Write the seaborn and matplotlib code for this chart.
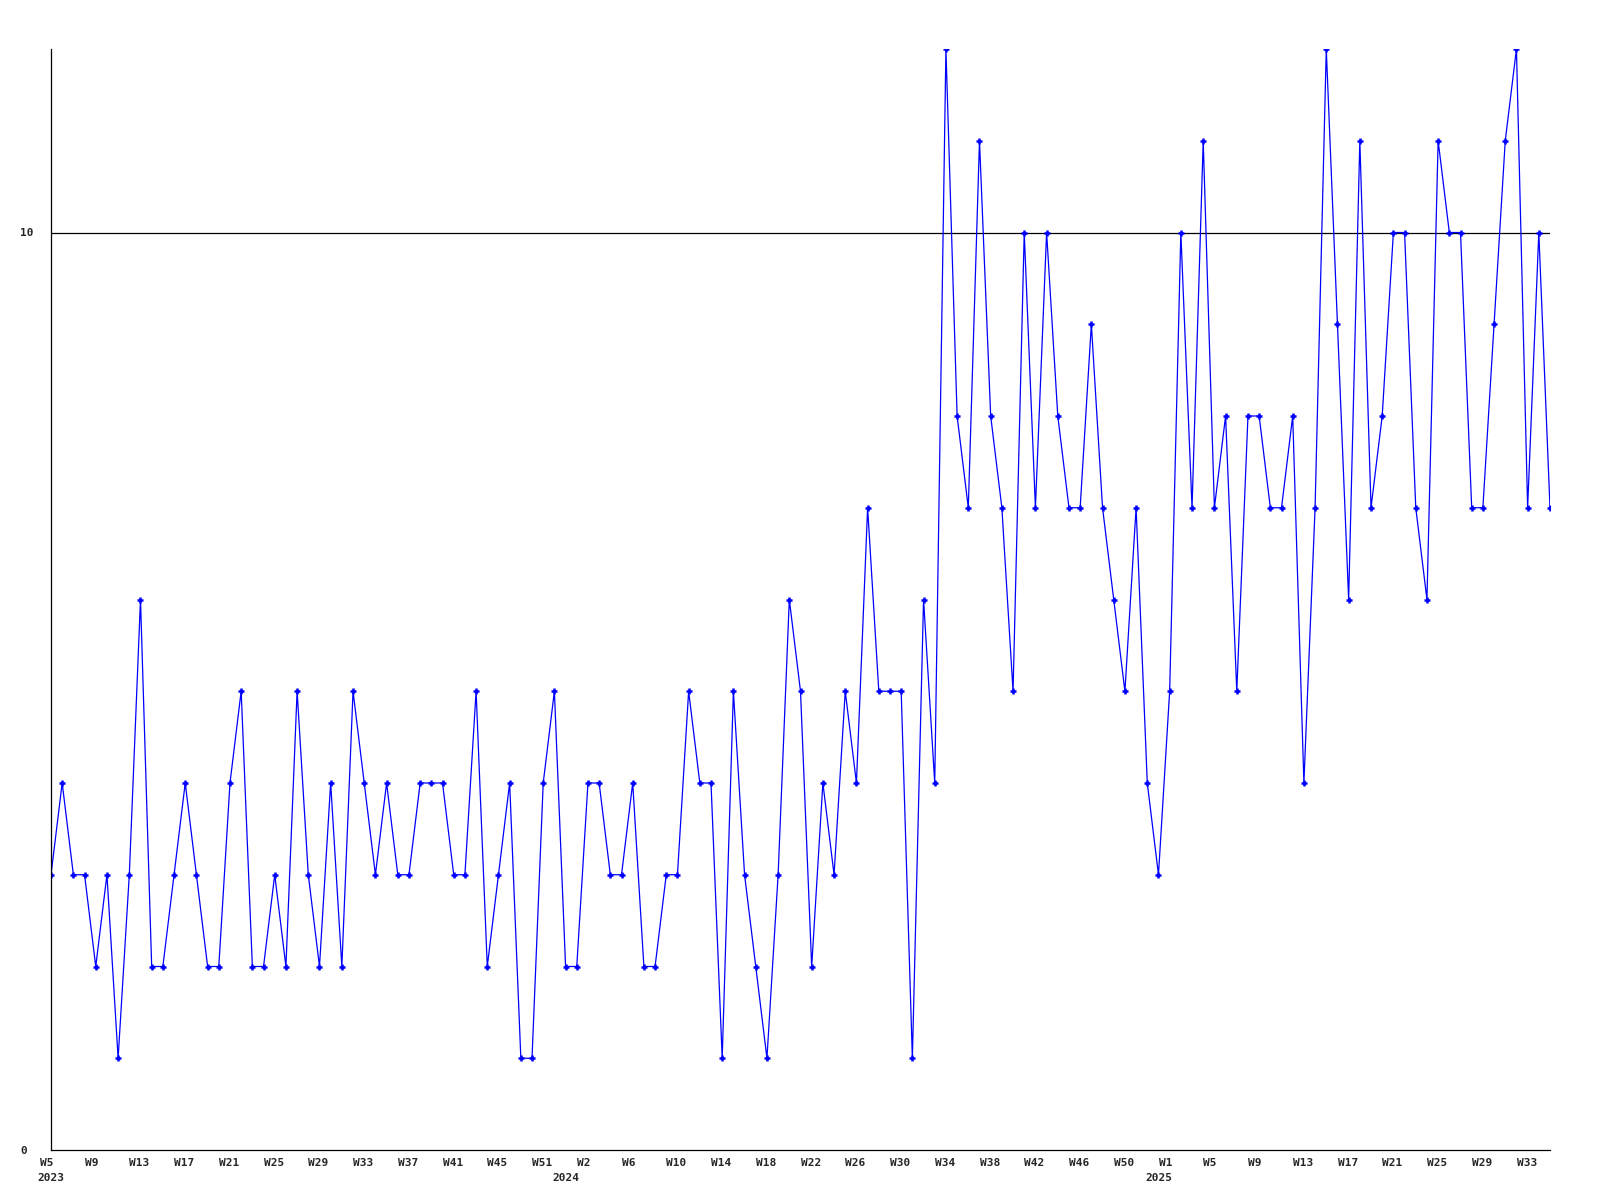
import pandas as pd
import matplotlib
matplotlib.use('Agg')
import matplotlib.pyplot as plt
import matplotlib.transforms as mtransforms
import seaborn as sns

# weekly values, 2023 W5 .. 2025 W35
values = [
    3, 4, 3, 3, 2, 3, 1, 3, 6, 2, 2, 3, 4, 3, 2, 2, 4, 5, 2, 2,
    3, 2, 5, 3, 2, 4, 2, 5, 4, 3, 4, 3, 3, 4, 4, 4, 3, 3, 5, 2,
    3, 4, 1, 1, 4, 5, 2, 2, 4, 4, 3, 3, 4, 2, 2, 3, 3, 5, 4, 4,
    1, 5, 3, 2, 1, 3, 6, 5, 2, 4, 3, 5, 4, 7, 5, 5, 5, 1, 6, 4,
    12, 8, 7, 11, 8, 7, 5, 10, 7, 10, 8, 7, 7, 9, 7, 6, 5, 7, 4, 3,
    5, 10, 7, 11, 7, 8, 5, 8, 8, 7, 7, 8, 4, 7, 12, 9, 6, 11, 7, 8,
    10, 10, 7, 6, 11, 10, 10, 7, 7, 9, 11, 12, 7, 10, 7,
]

week_labels = [
    'W5', 'W9', 'W13', 'W17', 'W21', 'W25', 'W29', 'W33', 'W37', 'W41', 'W45', 'W51',
    'W2', 'W6', 'W10', 'W14', 'W18', 'W22', 'W26', 'W30', 'W34', 'W38', 'W42', 'W46', 'W50',
    'W1', 'W5', 'W9', 'W13', 'W17', 'W21', 'W25', 'W29', 'W33',
]
years = ['2023', '2024', '2025']
year_pos = [0, 46, 99]

ref_value = 10

df = pd.DataFrame({'week': range(len(values)), 'value': values})

sns.set_style('white')
plt.rcParams['font.family'] = ['DejaVu Sans Mono']

fig = plt.figure(figsize=(16, 12), dpi=100)
ax = fig.add_axes([51 / 1600, 1 - 1150 / 1200, 1499 / 1600, 1101 / 1200])

sns.lineplot(data=df, x='week', y='value', ax=ax, color='#0000ff', linewidth=0.9,
             marker='+', markersize=5, markeredgewidth=1.8, markeredgecolor='#0000ff')
ax.axhline(ref_value, color='black', linewidth=0.9, zorder=1)

ax.set_xlim(0, len(values) - 1)
ax.set_ylim(0, 12)

for side in ['top', 'right']:
    ax.spines[side].set_visible(False)
for side in ['left', 'bottom']:
    ax.spines[side].set_color('black')
    ax.spines[side].set_linewidth(0.9)

ax.set_xticks(range(0, 4 * len(week_labels), 4))
ax.set_xticklabels(week_labels, fontsize=8, fontweight='bold', ha='left')
ax.set_yticks([0, ref_value])
ax.set_yticklabels(['0', '10'], fontsize=8, fontweight='bold', ha='left')
ax.tick_params(axis='x', length=0, pad=6)
ax.tick_params(axis='y', length=0, pad=22)
shift = mtransforms.ScaledTranslation(-11 / 100, 0, fig.dpi_scale_trans)
for lbl in ax.get_xticklabels():
    lbl.set_transform(lbl.get_transform() + shift)

ax.set_xlabel('')
ax.set_ylabel('')

trans = mtransforms.blended_transform_factory(ax.transData, ax.transAxes)
for yr, pos in zip(years, year_pos):
    ax.text(pos, -0.0255, yr, transform=trans, ha='center', va='center',
            fontsize=8, fontweight='bold')

fig.savefig('out.png', dpi=100, facecolor='white')
